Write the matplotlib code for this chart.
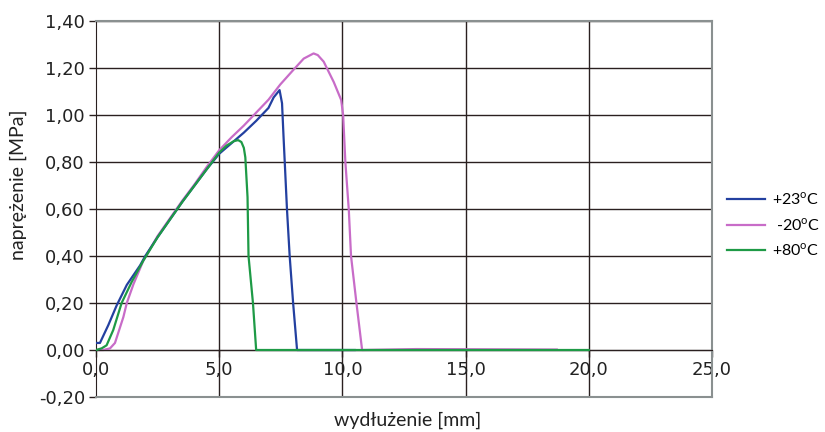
import matplotlib
matplotlib.use("Agg")
import matplotlib.pyplot as plt
from matplotlib.ticker import FixedLocator

# elongation [mm] / stress [MPa]
x_23 = [0.0, 0.16, 0.5, 0.84, 1.25, 1.79, 2.0, 2.5, 3.0, 3.5, 4.0, 4.5, 5.0, 5.5,
        6.0, 6.5, 7.0, 7.21, 7.45, 7.55, 7.61, 7.66, 7.75, 7.86, 8.0, 8.16, 10.5]
y_23 = [0.03, 0.03, 0.106, 0.19, 0.277, 0.36, 0.40, 0.48, 0.555, 0.63, 0.70, 0.77,
        0.835, 0.88, 0.925, 0.975, 1.03, 1.075, 1.106, 1.05, 0.91, 0.80, 0.60,
        0.40, 0.20, 0.0, 0.0]

x_m20 = [0.0, 0.3, 0.57, 0.77, 1.11, 1.25, 1.52, 1.92, 2.5, 3.0, 3.5, 4.0, 4.5, 5.0,
         5.5, 6.0, 6.5, 7.0, 7.48, 7.95, 8.43, 8.83, 9.0, 9.24, 9.65, 9.95, 10.03,
         10.12, 10.26, 10.35, 10.57, 10.8, 13.0, 18.7]
y_m20 = [0.0, 0.0, 0.007, 0.03, 0.14, 0.2, 0.28, 0.38, 0.485, 0.56, 0.635, 0.705,
         0.78, 0.85, 0.905, 0.955, 1.01, 1.065, 1.13, 1.185, 1.24, 1.262, 1.255,
         1.227, 1.14, 1.064, 1.0, 0.80, 0.596, 0.40, 0.20, 0.0, 0.004, 0.002]

x_80 = [0.0, 0.23, 0.43, 0.7, 1.04, 1.45, 1.92, 2.5, 3.0, 3.5, 4.0, 4.5, 5.0, 5.3,
        5.6, 5.77, 5.9, 6.0, 6.06, 6.15, 6.19, 6.37, 6.5, 20.0]
y_80 = [0.0, 0.007, 0.02, 0.085, 0.2, 0.29, 0.38, 0.48, 0.555, 0.63, 0.70, 0.77,
        0.84, 0.87, 0.889, 0.893, 0.885, 0.86, 0.82, 0.65, 0.40, 0.20, 0.0, 0.0]

x_ticks = [0, 5, 10, 15, 20, 25]
y_ticks = [-0.2, 0.0, 0.2, 0.4, 0.6, 0.8, 1.0, 1.2, 1.4]

plt.rcParams["mathtext.fontset"] = "custom"
plt.rcParams["mathtext.rm"] = "Lato"

fig = plt.figure(figsize=(8.25, 4.32), dpi=100)
ax = fig.add_axes([96 / 825, 35 / 432, 616 / 825, 376 / 432])

ax.set_xlim(0, 25)
ax.set_ylim(-0.2, 1.4)

grid_color = "#2a2020"
for v in x_ticks[1:]:
    ax.axvline(v, color=grid_color, lw=1.0, zorder=1)
for v in y_ticks[1:]:
    ax.axhline(v, color=grid_color, lw=1.0, zorder=1)

ax.plot(x_23, y_23, color="#2340a0", lw=1.6, label="+23$^{\\mathrm{o}}$C", zorder=3)
ax.plot(x_m20, y_m20, color="#c86cc8", lw=1.6, label=" -20$^{\\mathrm{o}}$C", zorder=2)
ax.plot(x_80, y_80, color="#1e9a46", lw=1.6, label="+80$^{\\mathrm{o}}$C", zorder=4)

# frame: black left spine and axis through zero, grey elsewhere
frame_grey = "#8a9090"
ax.spines["bottom"].set_position(("data", 0))
ax.spines["bottom"].set_color(grid_color)
ax.spines["left"].set_color(grid_color)
ax.spines["top"].set_color(frame_grey)
ax.spines["right"].set_color(frame_grey)
ax.spines["top"].set_linewidth(1.5)
ax.spines["right"].set_linewidth(1.5)
ax.axhline(-0.2, color=frame_grey, lw=1.5, clip_on=False, zorder=5)

ax.xaxis.set_major_locator(FixedLocator(x_ticks))
ax.yaxis.set_major_locator(FixedLocator(y_ticks))
ax.set_xticklabels([f"{v:.1f}".replace(".", ",") for v in x_ticks])
ax.set_yticklabels([f"{v:.2f}".replace(".", ",") for v in y_ticks])
ax.tick_params(axis="both", direction="out", length=5, width=1.0,
               color=grid_color, labelsize=13, labelcolor="#222222")
ax.tick_params(axis="x", pad=3)
ax.tick_params(axis="y", pad=3)
for lbl in ax.get_xticklabels() + ax.get_yticklabels():
    lbl.set_fontfamily("DejaVu Sans")

fig.text(408 / 825, 1 - 420 / 432, "wydłużenie [mm]", ha="center", va="center",
         fontsize=14, family="Lato", color="#222222")
fig.text(18 / 825, 1 - 185 / 432, "naprężenie [MPa]", ha="center", va="center",
         rotation=90, fontsize=14, family="Lato", color="#222222")

fig.legend(loc="center left", bbox_to_anchor=(727 / 825, 1 - 225 / 432),
           frameon=False, borderpad=0, borderaxespad=0, handlelength=2.4,
           handletextpad=0.4, labelspacing=0.55,
           prop={"family": "Lato", "size": 11.5})

fig.savefig("out.png", dpi=100)
